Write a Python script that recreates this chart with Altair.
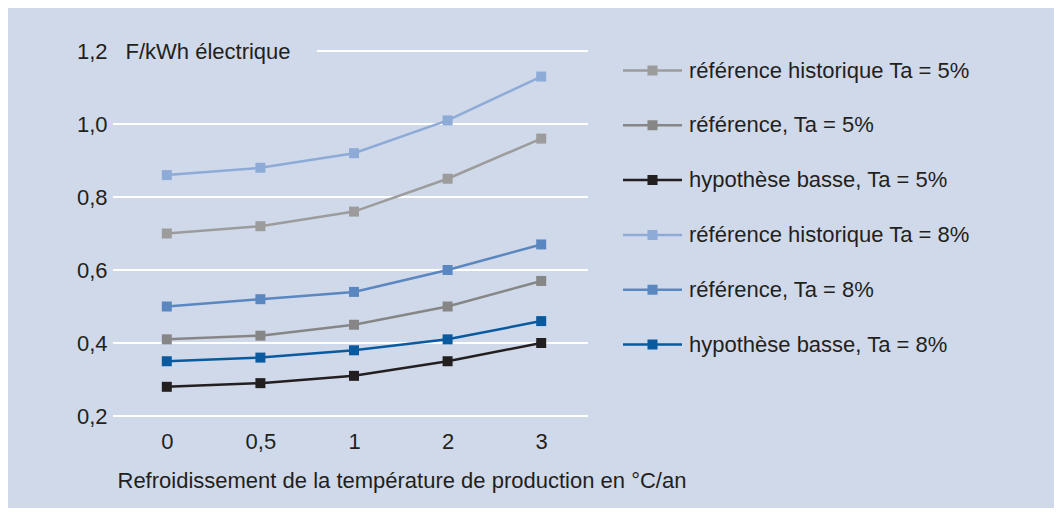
import altair as alt
import pandas as pd

# ---- data ----
categories = ["0", "0,5", "1", "2", "3"]
series_names = [
    "référence historique Ta = 5%",
    "référence, Ta = 5%",
    "hypothèse basse, Ta = 5%",
    "référence historique Ta = 8%",
    "référence, Ta = 8%",
    "hypothèse basse, Ta = 8%",
]
hist_5 = [0.70, 0.72, 0.76, 0.85, 0.96]
ref_5 = [0.41, 0.42, 0.45, 0.50, 0.57]
basse_5 = [0.28, 0.29, 0.31, 0.35, 0.40]
hist_8 = [0.86, 0.88, 0.92, 1.01, 1.13]
ref_8 = [0.50, 0.52, 0.54, 0.60, 0.67]
basse_8 = [0.35, 0.36, 0.38, 0.41, 0.46]
y_ticks = [0.2, 0.4, 0.6, 0.8, 1.0, 1.2]

colors = ["#9c9c9c", "#868686", "#231f20", "#8eaad6", "#5b87c0", "#0a5aa0"]

series_values = [hist_5, ref_5, basse_5, hist_8, ref_8, basse_8]
rows = []
for name, vals in zip(series_names, series_values):
    for c, v in zip(categories, vals):
        rows.append({"serie": name, "x": c, "y": v})
df = pd.DataFrame(rows)

grid_df = pd.DataFrame({"y": y_ticks[:-1]})
top_df = pd.DataFrame({"y": y_ticks[-1:]})

FONT = "Liberation Sans"
TXT = "#231f20"
BG = "#d0d9ea"
W, H = 468, 365
FS = 22

yscale = alt.Scale(domain=[0.2, 1.2], nice=False, zero=False)
xscale = alt.Scale(domain=categories, padding=0.5)

x_enc = alt.X(
    "x:N",
    scale=xscale,
    sort=categories,
    axis=alt.Axis(
        title="Refroidissement de la température de production en °C/an",
        labelAngle=0,
        labelPadding=15,
        domain=False,
        ticks=False,
        titleX=-3,
        titleY=64,
        titleAlign="left",
        titleAnchor="start",
        titleBaseline="middle",
    ),
)
y_axis_enc = alt.Y(
    "y:Q",
    scale=yscale,
    axis=alt.Axis(
        values=y_ticks,
        labelExpr="replace(format(datum.value, '.1f'), '.', ',')",
        title="F/kWh électrique",
        titleAngle=0,
        titleX=5,
        titleY=0,
        titleAlign="left",
        titleBaseline="middle",
        labelPadding=13,
        domain=False,
        ticks=False,
        grid=False,
    ),
)
y_plain = alt.Y("y:Q", scale=yscale)

color_enc = alt.Color(
    "serie:N",
    scale=alt.Scale(domain=series_names, range=colors),
    legend=alt.Legend(
        title=None,
        orient="none",
        legendX=503,
        legendY=-10,
        symbolType="M-1,-0.042H1V0.042H-1Z M-0.17,-0.17H0.17V0.17H-0.17Z",
        symbolSize=3481,
        symbolStrokeWidth=0,
        symbolOpacity=1,
        labelOffset=7,
        rowPadding=13.8,
        labelFontSize=FS,
        labelFont=FONT,
        labelColor=TXT,
        labelLimit=400,
    ),
)

grid = alt.Chart(grid_df).mark_rule(color="white", strokeWidth=2).encode(
    y=y_axis_enc,
    x=alt.value(-7),
    x2=alt.value(W),
)
grid_top = alt.Chart(top_df).mark_rule(color="white", strokeWidth=2).encode(
    y=y_plain,
    x=alt.value(197),
    x2=alt.value(W),
)

base = alt.Chart(df)
lines = base.mark_line(strokeWidth=2.5).encode(
    x=x_enc, y=y_plain, color=color_enc, detail="serie:N"
)
points = base.mark_point(shape="square", filled=True, size=100, opacity=1).encode(
    x=alt.X("x:N", scale=xscale, sort=categories),
    y=y_plain,
    color=color_enc,
)

chart = (
    alt.layer(grid, grid_top, lines, points)
    .properties(
        width=W,
        height=H,
        background=BG,
        padding={"left": 112, "top": 43, "right": 466, "bottom": 92},
        autosize=alt.AutoSizeParams(type="none"),
    )
    .configure_view(stroke=None)
    .configure_axis(
        labelFont=FONT,
        titleFont=FONT,
        labelFontSize=FS,
        titleFontSize=FS,
        labelColor=TXT,
        titleColor=TXT,
        titleFontWeight="normal",
    )
)

chart.save("out.html", embed_options={"renderer": "svg", "actions": False})
